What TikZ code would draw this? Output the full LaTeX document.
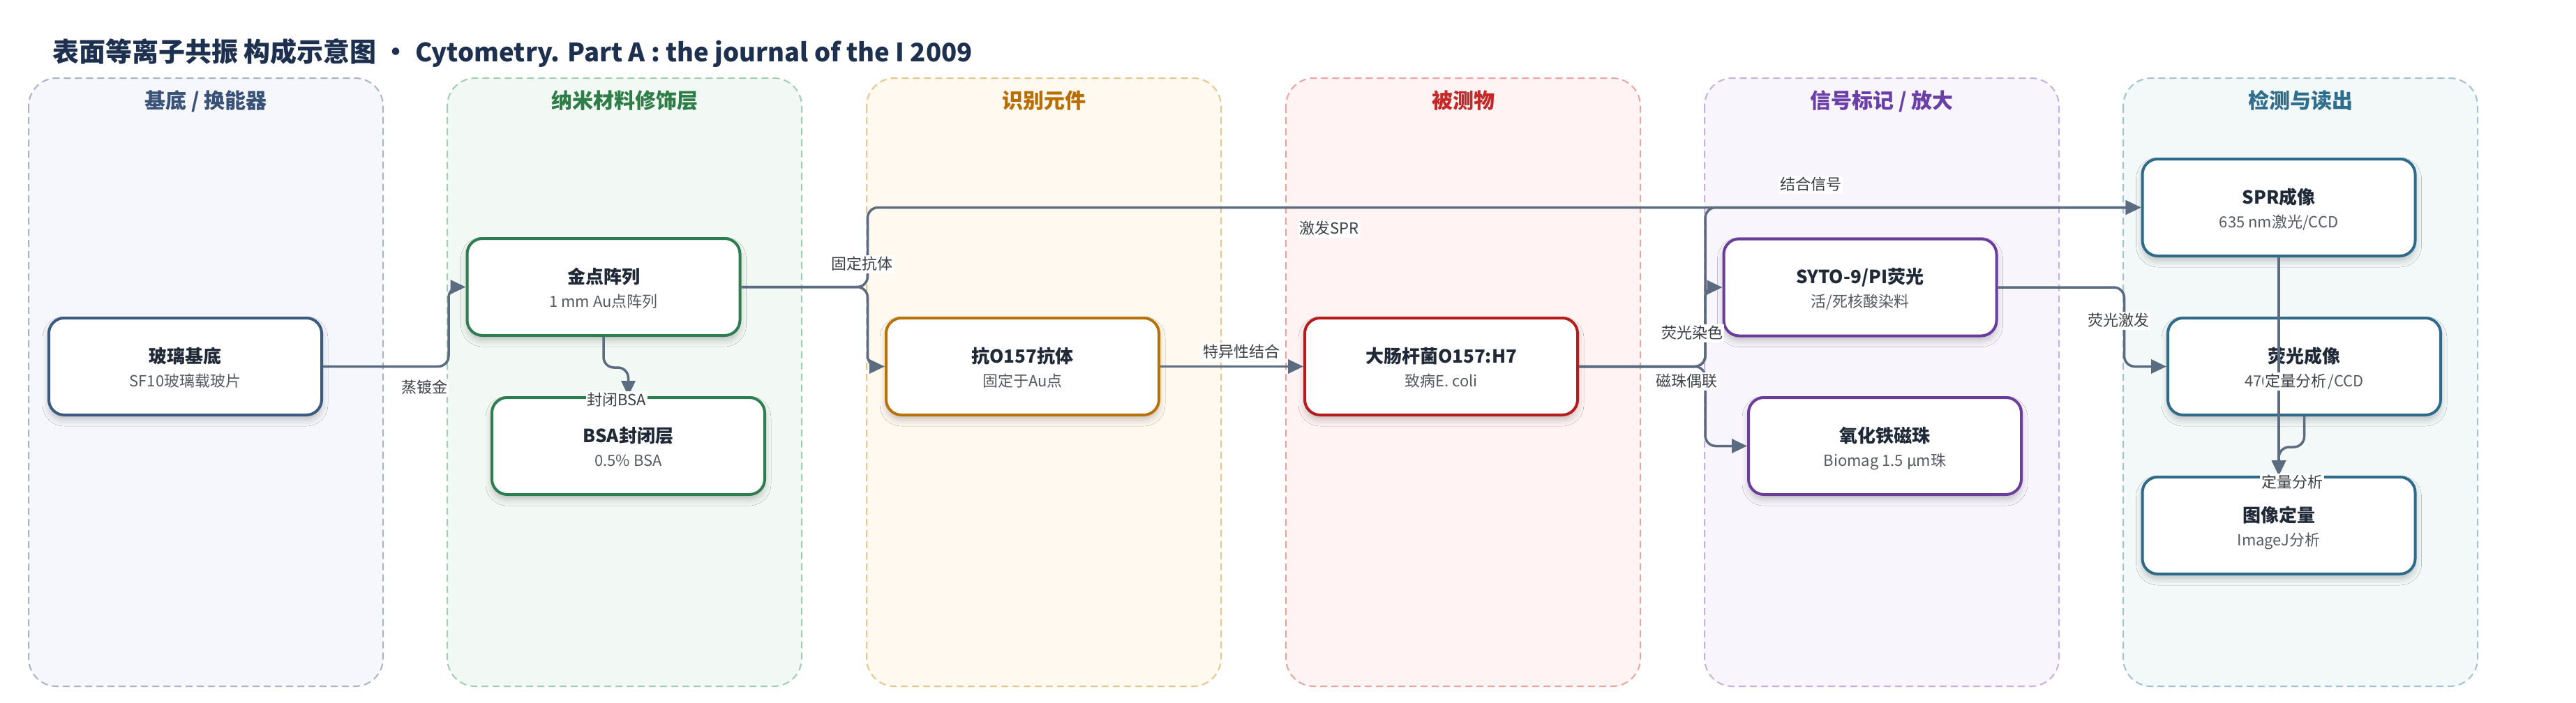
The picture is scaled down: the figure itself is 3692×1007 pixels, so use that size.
\documentclass[tikz,border=0pt]{standalone}
\usepackage{fontspec}
\setmainfont{Noto Sans CJK SC}
\usetikzlibrary{arrows.meta,shadows.blur}
\definecolor{pfA}{HTML}{F5F7FC}\definecolor{pdA}{HTML}{A8B3C7}\definecolor{ptA}{HTML}{3B5278}\definecolor{bxA}{HTML}{3D5A80}
\definecolor{pfB}{HTML}{F2F9F4}\definecolor{pdB}{HTML}{9FCFAE}\definecolor{ptB}{HTML}{2E7D46}\definecolor{bxB}{HTML}{2E7D4F}
\definecolor{pfC}{HTML}{FFF9F0}\definecolor{pdC}{HTML}{EBC58E}\definecolor{ptC}{HTML}{B86E00}\definecolor{bxC}{HTML}{B87308}
\definecolor{pfD}{HTML}{FFF4F3}\definecolor{pdD}{HTML}{EBA3A0}\definecolor{ptD}{HTML}{C62828}\definecolor{bxD}{HTML}{B71C1C}
\definecolor{pfE}{HTML}{F8F5FD}\definecolor{pdE}{HTML}{C8AEE3}\definecolor{ptE}{HTML}{6A3FA8}\definecolor{bxE}{HTML}{6A3D9A}
\definecolor{pfF}{HTML}{F3F8F9}\definecolor{pdF}{HTML}{A3C2CF}\definecolor{ptF}{HTML}{2F6E8C}\definecolor{bxF}{HTML}{2E6A8A}
\definecolor{edgec}{HTML}{5B6B80}
\definecolor{maintitle}{HTML}{1E3050}
\definecolor{boxtitle}{HTML}{1F2937}
\definecolor{boxsub}{HTML}{555B63}
\definecolor{lblc}{HTML}{3A3F45}
\newcommand{\mkbox}[6]{%
  \node[stagebox, draw=#4] (#1) at (#2,#3) {};
  \node[btitle] at (#2,#3-13.5) {#5};
  \node[bsub] at (#2,#3+21.5) {#6};
}
\newcommand{\mkpanel}[5]{%
  \draw[panelbox, fill=#2, draw=#3] (#1,112) rectangle (#1+508,984);
  \node[ptitle, text=#4] at (#1+254,146) {#5};
}
\begin{document}
\begin{tikzpicture}[x=1pt,y=-1pt,
  panelbox/.style={line width=2pt, dash pattern=on 10pt off 6pt, rounded corners=40pt},
  ptitle/.style={font=\fontsize{30}{34}\selectfont\bfseries, inner sep=0pt, text height=24pt, text depth=6pt},
  stagebox/.style={line width=4pt, fill=white, rounded corners=22pt, minimum width=391pt, minimum height=139pt, inner sep=0pt,
     blur shadow={shadow xshift=0pt, shadow yshift=-7pt, shadow blur radius=9pt, shadow opacity=22}},
  btitle/.style={font=\fontsize{26}{30}\selectfont\bfseries, text=boxtitle, inner sep=0pt, text height=21pt, text depth=5pt},
  bsub/.style={font=\fontsize{22}{26}\selectfont, text=boxsub, inner sep=0pt, text height=18pt, text depth=4pt},
  edge/.style={line width=3.5pt, draw=edgec, rounded corners=15pt, -{Triangle[length=22pt,width=20pt]}},
  lbl/.style={font=\fontsize{22}{26}\selectfont, text=lblc, fill=white, inner sep=2pt, text height=18pt, text depth=4pt}
]
\useasboundingbox (0,0) rectangle (3692,1007);
\fill[white] (0,0) rectangle (3692,1007);

\node[anchor=west, font=\fontsize{38}{44}\selectfont\bfseries, text=maintitle, inner sep=0pt] (maintitle) at (75,76)
  {表面等离子共振 构成示意图 • {\fontsize{36.5}{42}\selectfont Cytometry. Part A : the journal of the I 2009}};

\mkpanel{41}{pfA}{pdA}{ptA}{基底 / 换能器}
\mkpanel{641}{pfB}{pdB}{ptB}{纳米材料修饰层}
\mkpanel{1242}{pfC}{pdC}{ptC}{识别元件}
\mkpanel{1843}{pfD}{pdD}{ptD}{被测物}
\mkpanel{2443}{pfE}{pdE}{ptE}{信号标记 / 放大}
\mkpanel{3043}{pfF}{pdF}{ptF}{检测与读出}

\mkbox{glass}{265.5}{525.5}{bxA}{玻璃基底}{SF10玻璃载玻片}
\mkbox{gold}{865}{411.5}{bxB}{金点阵列}{1 mm Au点阵列}
\mkbox{bsa}{900.5}{639.5}{bxB}{BSA封闭层}{0.5\% BSA}
\mkbox{anti}{1465.5}{525.5}{bxC}{抗O157抗体}{固定于Au点}
\mkbox{ecoli}{2065.5}{525.5}{bxD}{大肠杆菌O157:H7}{致病E. coli}
\mkbox{syto}{2666}{412}{bxE}{SYTO-9/PI荧光}{活/死核酸染料}
\mkbox{bead}{2701.5}{639.5}{bxE}{氧化铁磁珠}{Biomag 1.5 μm珠}
\mkbox{spr}{3266}{297.5}{bxF}{SPR成像}{635 nm激光/CCD}
\mkbox{fimg}{3302.5}{525.5}{bxF}{荧光成像}{470 nm激发/CCD}
\mkbox{quant}{3266}{753.5}{bxF}{图像定量}{ImageJ分析}

\draw[edge] (glass.east) -- ++(180,0) |- (gold.west);
\draw[edge] (gold.east) -- ++(181,0) |- (anti.west);
\draw[edge] (gold.east) -- ++(181,0) |- (spr.west);
\draw[edge] (gold.south) -- ++(0,44) -| (bsa.north);
\draw[edge] (anti.east) -- (ecoli.west);
\draw[edge] (ecoli.east) -- ++(181,0) |- (spr.west);
\draw[edge] (ecoli.east) -- ++(181,0) |- (syto.west);
\draw[edge] (ecoli.east) -- ++(181,0) |- (bead.west);
\draw[edge] (syto.east) -- ++(181,0) |- (fimg.west);
\draw[edge] (spr.south) -- (quant.north);
\draw[edge] (fimg.south) -- ++(0,44) -| (quant.north);

\node[lbl] at (608,556) {蒸镀金};
\node[lbl] at (1235,379) {固定抗体};
\node[lbl] at (1905,328) {激发SPR};
\node[lbl] at (884,574) {封闭BSA};
\node[lbl] at (1779,505) {特异性结合};
\node[lbl] at (2595,265) {结合信号};
\node[lbl] at (2425,478) {荧光染色};
\node[lbl] at (2417,547) {磁珠偶联};
\node[lbl] at (3036,460) {荧光激发};
\node[lbl] at (3290,547) {定量分析};
\node[lbl] at (3285,692) {定量分析};
\end{tikzpicture}
\end{document}
